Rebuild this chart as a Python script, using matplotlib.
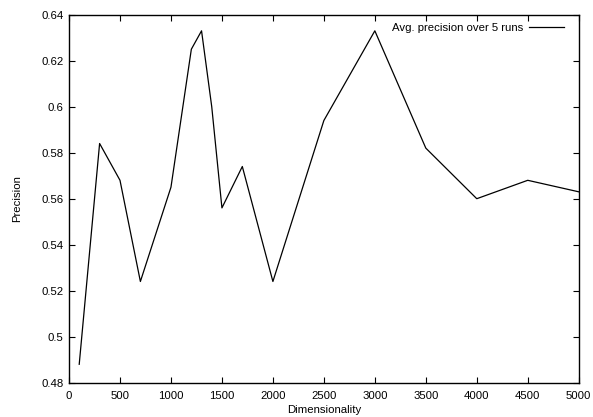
import matplotlib
matplotlib.use("Agg")
import matplotlib.pyplot as plt
from matplotlib.ticker import MultipleLocator, FuncFormatter

# Dimensionality vs. average precision
dims = [100, 300, 500, 700, 1000, 1200, 1300, 1400, 1500, 1700, 2000,
        2500, 3000, 3500, 4000, 4500, 5000]
precision = [0.488, 0.584, 0.568, 0.524, 0.565, 0.625, 0.633, 0.600,
             0.556, 0.574, 0.524, 0.594, 0.633, 0.582, 0.560, 0.568, 0.563]
series_label = "Avg. precision over 5 runs"

plt.rcParams['font.family'] = ['Liberation Sans', 'DejaVu Sans']
fs = 8.2

fig = plt.figure(figsize=(5.93, 4.17), dpi=100)
ax = fig.add_axes([0.1164, 0.0823, 0.8595, 0.8824])

ax.plot(dims, precision, color='black', linewidth=0.9, label=series_label)

ax.set_xlim(0, 5000)
ax.set_ylim(0.48, 0.64)
ax.xaxis.set_major_locator(MultipleLocator(500))
ax.yaxis.set_major_locator(MultipleLocator(0.02))
ax.yaxis.set_major_formatter(FuncFormatter(lambda v, p: '%g' % round(v, 4)))
ax.tick_params(direction='in', length=4, width=0.8, top=True, right=True,
               labelsize=fs, pad=4, colors='black')
ax.tick_params(axis='x', pad=6)
for s in ax.spines.values():
    s.set_linewidth(1.0)

ax.set_xlabel("Dimensionality", fontsize=fs, labelpad=3)
ax.set_ylabel("Precision", fontsize=fs, labelpad=14)

ax.legend(loc='upper right', bbox_to_anchor=(0.986, 1.0), frameon=False,
          markerfirst=False, handlelength=3.0, borderaxespad=0.3,
          handletextpad=0.5, fontsize=fs)

fig.savefig("out.png", dpi=100)
